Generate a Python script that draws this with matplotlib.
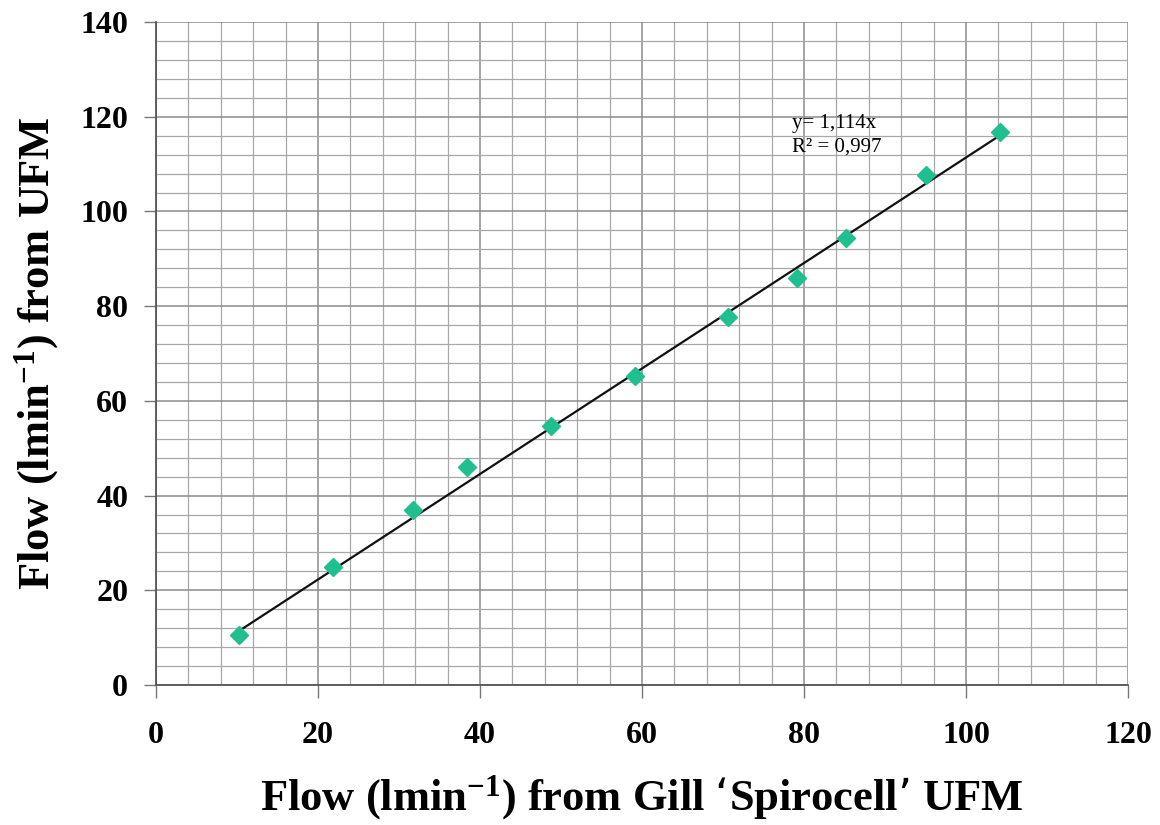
import numpy as np
import matplotlib.pyplot as plt
from matplotlib.ticker import MultipleLocator

plt.rcParams['font.family'] = ['Liberation Serif', 'DejaVu Serif']
plt.rcParams['mathtext.default'] = 'regular'

# flow readings: Gill 'Spirocell' UFM (x) against UFM (y), l/min
gill_flow = [10.2, 21.8, 31.7, 38.4, 48.8, 59.1, 70.6, 79.1, 85.2, 95.1, 104.2]
ufm_flow = [10.5, 24.9, 36.9, 46.0, 54.7, 65.2, 77.7, 85.9, 94.4, 107.7, 116.8]

# linear trend through the origin
slope = 1.114
r_squared = 0.997

fig = plt.figure(figsize=(11.6, 8.25), dpi=100)
ax = fig.add_axes([0.1345, 0.1697, 0.838, 0.8036])

ax.set_xlim(0, 120)
ax.set_ylim(0, 140)
ax.xaxis.set_major_locator(MultipleLocator(20))
ax.yaxis.set_major_locator(MultipleLocator(20))
ax.xaxis.set_minor_locator(MultipleLocator(4))
ax.yaxis.set_minor_locator(MultipleLocator(4))

ax.grid(True, which='major', color='#8c8c8c', linewidth=1.1)
ax.grid(True, which='minor', color='#a8a8a8', linewidth=0.9)
ax.set_axisbelow(True)

for side in ['top', 'right']:
    ax.spines[side].set_visible(False)
for side in ['left', 'bottom']:
    ax.spines[side].set_color('#555555')
    ax.spines[side].set_linewidth(1.3)

ax.tick_params(which='major', direction='out', length=9, width=1.0, color='#777777')
ax.tick_params(which='minor', length=0)
ax.tick_params(axis='x', which='major', pad=17, labelsize=23)
ax.tick_params(axis='y', which='major', pad=11, labelsize=23)
for lbl in ax.get_xticklabels() + ax.get_yticklabels():
    lbl.set_fontweight('bold')

# trendline spans the measured range
xs = np.array([gill_flow[0], gill_flow[-1]])
ax.plot(xs, slope * xs, color='#111111', linewidth=1.6, zorder=3)

ax.plot(gill_flow, ufm_flow, linestyle='none', marker='D', markersize=9,
        color='#1fbf8f', markeredgecolor='#1fbf8f', zorder=4)

ax.text(78.5, 120.6, f'y= {slope:.3f}x'.replace('.', ','), fontsize=15,
        ha='left', va='top')
ax.text(78.5, 115.6, f'R² = {r_squared:.3f}'.replace('.', ','), fontsize=15,
        ha='left', va='top')

ax.set_xlabel('Flow (lmin$^{-1}$) from Gill \u2018Spirocell\u2019 UFM',
              fontsize=32, fontweight='bold', labelpad=17)
ax.set_ylabel('Flow (lmin$^{-1}$) from UFM', fontsize=32, fontweight='bold',
              labelpad=14)

fig.savefig('out.png', dpi=100)
